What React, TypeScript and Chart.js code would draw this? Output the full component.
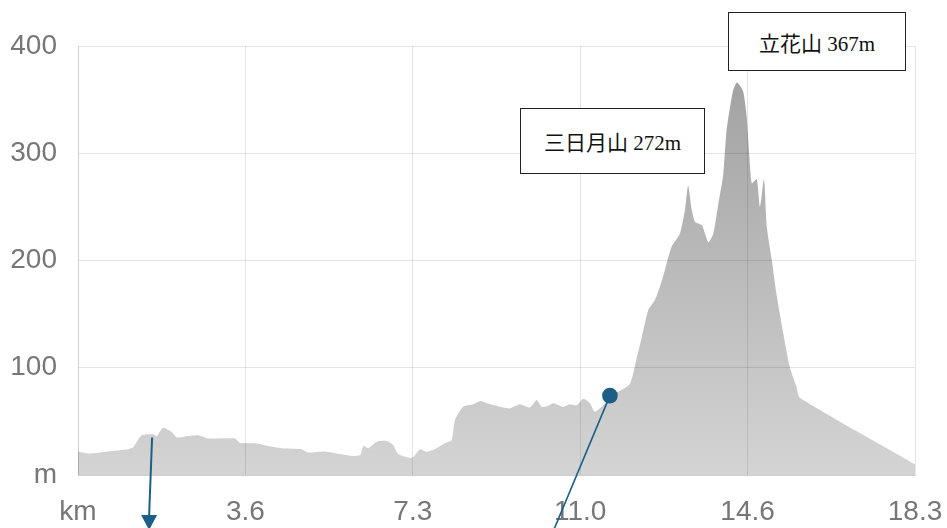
import React, { useEffect, useRef } from 'react';
import { Chart, registerables } from 'chart.js';

Chart.register(...registerables);

// elevation profile, distance in km / elevation in m
const distKm = [
  0.0, 0.23, 0.66, 1.1, 1.21, 1.39, 1.65, 1.72, 1.86, 2.05, 2.16, 2.34, 2.63, 2.85, 3.43, 3.54,
  3.87, 4.16, 4.45, 4.89, 5.03, 5.4, 5.73, 6.02, 6.17, 6.24, 6.35, 6.53, 6.75, 6.89, 7.0, 7.3,
  7.48, 7.62, 7.8, 8.02, 8.17, 8.24, 8.42, 8.64, 8.8, 8.94, 9.1, 9.23, 9.44, 9.55, 9.66, 9.88,
  10.03, 10.14, 10.25, 10.39, 10.61, 10.75, 10.9, 11.05, 11.19, 11.3, 11.48, 11.63, 11.85, 12.07,
  12.22, 12.33, 12.47, 12.61, 12.72, 12.83, 12.98, 13.16, 13.27, 13.34, 13.42, 13.49, 13.64, 13.78,
  13.89, 14.0, 14.11, 14.18, 14.32, 14.41, 14.54, 14.62, 14.73, 14.84, 14.91, 15.0, 15.06, 15.17,
  15.27, 15.42, 15.56, 15.71, 15.78, 18.3,
];
const elevM = [
  22, 20, 22, 24, 26, 37, 38, 36, 44, 40, 35, 36, 37, 34, 34, 30,
  29.5, 27, 25, 24, 21, 22, 19.5, 17.7, 18.6, 27, 25, 31, 31.7, 28, 19.6, 16,
  24, 21.7, 24, 29.5, 32.6, 51, 63.6, 66, 69, 67, 65, 63.6, 62, 64, 66, 63,
  70, 63.6, 64, 67, 63.6, 66, 65, 71, 67, 59, 65, 74, 78.5, 85,
  110, 129, 154, 163, 175, 191, 213, 225, 247, 270, 247, 236, 233, 217,
  225, 253, 281, 321, 358, 366, 358, 334, 272, 276, 250, 276, 231, 200,
  169, 132, 101, 82, 72, 10,
];

const xTickValues = [0, 3.66, 7.32, 10.98, 14.64, 18.3];
const xTickLabels = ['km', '3.6', '7.3', '11.0', '14.6', '18.3'];

// route markers (km, m)
const markerKm = [1.62, 11.63];
const markerElev = [35, 74];

const peakLabels = ['三日月山 272m', '立花山 367m'];

const markerPlugin = {
  id: 'routeMarkers',
  afterDatasetsDraw(chart: Chart) {
    const { ctx, scales, height } = chart;
    const xs = scales.x;
    const ys = scales.y;
    const blue = '#1b5f86';
    ctx.save();
    ctx.strokeStyle = blue;
    ctx.fillStyle = blue;

    // arrow pointing down
    const ax = xs.getPixelForValue(markerKm[0]);
    const ay = ys.getPixelForValue(markerElev[0]);
    const tipX = ax - 3;
    const tipY = height + 2;
    ctx.lineWidth = 2;
    ctx.beginPath();
    ctx.moveTo(ax, ay);
    ctx.lineTo(tipX, tipY - 14);
    ctx.stroke();
    ctx.beginPath();
    ctx.moveTo(tipX - 8, tipY - 15);
    ctx.lineTo(tipX + 8, tipY - 15);
    ctx.lineTo(tipX, tipY);
    ctx.closePath();
    ctx.fill();

    // dot with leader line
    const bx = xs.getPixelForValue(markerKm[1]);
    const by = ys.getPixelForValue(markerElev[1]);
    ctx.lineWidth = 1.6;
    ctx.beginPath();
    ctx.moveTo(bx, by);
    ctx.lineTo(bx - 57, height + 4);
    ctx.stroke();
    ctx.beginPath();
    ctx.arc(bx, by, 7.8, 0, Math.PI * 2);
    ctx.fill();
    ctx.restore();
  },
};

const ElevationChart: React.FC = () => {
  const chartRef = useRef<HTMLCanvasElement>(null);
  const chartInstance = useRef<Chart | null>(null);

  useEffect(() => {
    if (!chartRef.current) return;
    const ctx = chartRef.current.getContext('2d');
    if (!ctx) return;

    const tickFont = { family: "'Liberation Sans', Arial, sans-serif", size: 28 };

    chartInstance.current = new Chart(ctx, {
      type: 'line',
      data: {
        datasets: [{
          data: distKm.map((x, i) => ({ x, y: elevM[i] })),
          fill: 'origin',
          borderWidth: 0,
          pointRadius: 0,
          tension: 0.2,
          backgroundColor: (context: any) => {
            const { ctx: c, chartArea } = context.chart;
            if (!chartArea) return 'rgba(0,0,0,0.25)';
            const g = c.createLinearGradient(0, chartArea.top, 0, chartArea.bottom);
            g.addColorStop(0, 'rgba(0,0,0,0.38)');
            g.addColorStop(1, 'rgba(0,0,0,0.17)');
            return g;
          },
        }],
      },
      options: {
        responsive: true,
        maintainAspectRatio: false,
        animation: false,
        layout: { padding: { top: 46, right: 32, left: 0, bottom: 0 } },
        plugins: {
          legend: { display: false },
          tooltip: { enabled: false },
        },
        scales: {
          x: {
            type: 'linear',
            min: 0,
            max: 18.3,
            afterBuildTicks: (scale: any) => {
              scale.ticks = xTickValues.map(v => ({ value: v }));
            },
            afterFit: (scale: any) => {
              scale.height = 53;
              scale.paddingLeft = 0;
              scale.paddingRight = 0;
            },
            grid: { drawTicks: false, color: 'rgba(0,0,0,0.1)' },
            ticks: {
              padding: 20,
              color: '#777',
              font: tickFont,
              maxRotation: 0,
              callback: (_v: any, i: number) => xTickLabels[i],
            },
          },
          y: {
            min: 0,
            max: 400,
            afterFit: (scale: any) => { scale.width = 78; },
            grid: { drawTicks: false, color: 'rgba(0,0,0,0.1)' },
            ticks: {
              stepSize: 100,
              padding: 21,
              color: '#777',
              font: tickFont,
              callback: (v: any) => (v === 0 ? 'm' : String(v)),
            },
          },
        },
      },
      plugins: [markerPlugin],
    });

    return () => {
      if (chartInstance.current) {
        chartInstance.current.destroy();
        chartInstance.current = null;
      }
    };
  }, []);

  const boxStyle: React.CSSProperties = {
    position: 'absolute',
    background: '#fff',
    border: '1px solid #222',
    boxSizing: 'border-box',
    display: 'flex',
    alignItems: 'center',
    justifyContent: 'center',
    fontFamily: "'Liberation Serif', 'Noto Sans CJK JP', serif",
    fontSize: 21,
    color: '#111',
    whiteSpace: 'nowrap',
  };

  return (
    <div style={{ position: 'absolute', left: 0, top: 0, width: 947, height: 528, background: '#fff', overflow: 'hidden' }}>
      <canvas ref={chartRef}></canvas>
      <div style={{ ...boxStyle, left: 520, top: 108, width: 185, height: 66 }}>{peakLabels[0]}</div>
      <div style={{ ...boxStyle, left: 728, top: 12, width: 178, height: 59 }}>{peakLabels[1]}</div>
    </div>
  );
};

export default function App() {
  return <ElevationChart />;
}
